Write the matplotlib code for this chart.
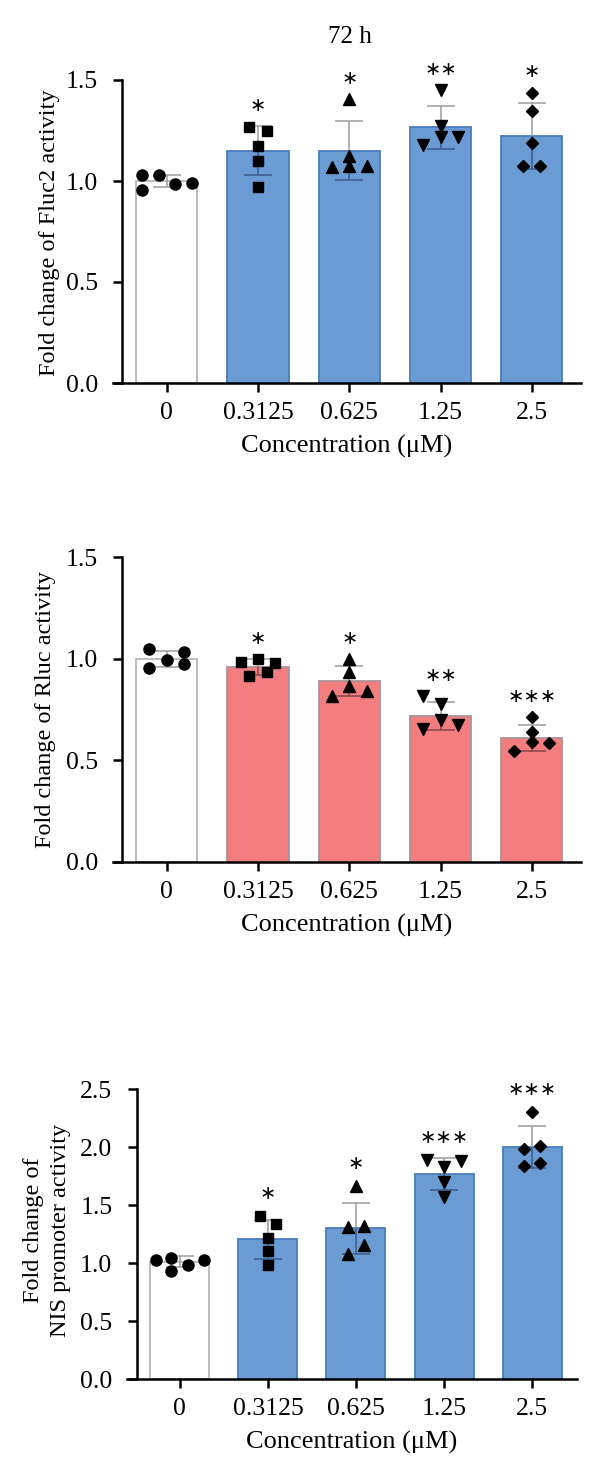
import matplotlib
matplotlib.use("Agg")
import matplotlib.pyplot as plt
import numpy as np

plt.rcParams['font.family'] = ['Liberation Serif', 'DejaVu Serif']

categories = ["0", "0.3125", "0.625", "1.25", "2.5"]
title = "72 h"
xlabel = "Concentration (μM)"

# ---- Panel 1: Fluc2 ----
fluc_label = "Fold change of Fluc2 activity"
fluc_mean = [1.00, 1.15, 1.15, 1.265, 1.224]
fluc_sd = [0.030, 0.120, 0.145, 0.107, 0.163]
fluc_points = [
    [1.03, 1.03, 0.955, 0.984, 0.99],
    [1.269, 1.249, 1.173, 1.099, 0.972],
    [1.404, 1.124, 1.071, 1.074, 1.074],
    [1.45, 1.272, 1.178, 1.22, 1.22],
    [1.437, 1.348, 1.186, 1.074, 1.074],
]
fluc_slots = [
    [-1.45, -0.45, -1.45, 0.5, 1.45],
    [-0.5, 0.5, 0, 0, 0],
    [0, 0, -1, 0, 1],
    [0, 0, -1, 0, 1],
    [0, 0, 0, -0.5, 0.5],
]
fluc_stars = ["", "*", "*", "**", "*"]

# ---- Panel 2: Rluc ----
rluc_label = "Fold change of Rluc activity"
rluc_mean = [0.998, 0.959, 0.892, 0.716, 0.611]
rluc_sd = [0.038, 0.039, 0.074, 0.069, 0.063]
rluc_points = [
    [1.048, 1.031, 0.991, 0.954, 0.975],
    [0.982, 0.998, 0.979, 0.913, 0.933],
    [0.998, 0.933, 0.864, 0.818, 0.839],
    [0.814, 0.778, 0.700, 0.654, 0.673],
    [0.713, 0.639, 0.590, 0.585, 0.545],
]
rluc_slots = [
    [-1, 1, 0, -1, 1],
    [-1, 0, 1, -0.5, 0.5],
    [0, 0, 0, -1, 1],
    [-1, 0, 0, -1, 1],
    [0, 0, 0, 1, -1],
]
rluc_stars = ["", "*", "*", "**", "***"]

# ---- Panel 3: NIS promoter ----
nis_label = "Fold change of\nNIS promoter activity"
nis_mean = [1.01, 1.203, 1.298, 1.764, 2.0]
nis_sd = [0.048, 0.168, 0.22, 0.137, 0.183]
nis_points = [
    [1.024, 1.045, 1.03, 0.981, 0.929],
    [1.404, 1.332, 1.212, 1.102, 0.987],
    [1.663, 1.309, 1.318, 1.151, 1.079],
    [1.888, 1.879, 1.831, 1.698, 1.568],
    [2.306, 1.986, 2.009, 1.836, 1.865],
]
nis_slots = [
    [-1.45, -0.5, 1.45, 0.5, -0.5],
    [-0.5, 0.5, 0, 0, 0],
    [0, -0.5, 0.5, 0.5, -0.5],
    [-1, 1, 0, 0, 0],
    [0, -0.5, 0.5, -0.5, 0.5],
]
nis_stars = ["", "*", "*", "***", "***"]

markers = ['o', 's', '^', 'v', 'D']
marker_sizes = [8.0, 7.5, 8.0, 8.0, 6.0]

W, H = 600, 1478
fig = plt.figure(figsize=(W / 100, H / 100), dpi=100)

BLUE = '#6a9bd3'
BLUE_EDGE = '#4a7cbc'
BLUE_ERR = '#2f5b97'
RED = '#f47e7f'
RED_EDGE = '#a99494'
RED_ERR = '#9a3f42'
WHITE_EDGE = '#b8b8b8'
GRAY_ERR = '#9c9c9c'


def px_axes(x0, x1, y0, y1):
    return [x0 / W, 1 - y0 / H, (x1 - x0) / W, (y0 - y1) / H]


def panel(rect, xlim, spine_x, ylim, yticks, mean, sd, points, slots, stars,
          fill, edge, err_in, ylabel, ylabel_xy, star_off, lspace=1.2):
    ax = fig.add_axes(rect)
    x = np.arange(len(categories))
    colors = ['white'] + [fill] * (len(categories) - 1)
    edges = [WHITE_EDGE] + [edge] * (len(categories) - 1)
    bars = ax.bar(x, mean, width=0.67, color=colors, edgecolor=edges,
                  linewidth=1.3, zorder=2)
    for i in range(len(categories)):
        ax.errorbar(x[i], mean[i], yerr=sd[i], fmt='none', ecolor=GRAY_ERR,
                    elinewidth=1.1, capsize=10, capthick=1.1, zorder=3,
                    clip_on=False)
        if i > 0:
            eb2 = ax.errorbar(x[i], mean[i], yerr=sd[i], fmt='none', ecolor=err_in,
                              elinewidth=1.1, capsize=10, capthick=1.1, zorder=3.5)
            for art in list(eb2.lines[1]) + list(eb2.lines[2]):
                art.set_clip_path(bars[i])
    for i in range(len(categories)):
        xs = x[i] + np.array(slots[i]) * 0.19
        ax.plot(xs, points[i], linestyle='none', marker=markers[i],
                markersize=marker_sizes[i], color='black', zorder=4, clip_on=False)
        if stars[i]:
            ax.annotate(stars[i].replace('*', '∗'), xy=(x[i], max(points[i])),
                        xytext=(0, star_off), textcoords='offset points',
                        ha='center', va='center', fontsize=14,
                        family=['DejaVu Sans'], zorder=5, annotation_clip=False)
    ax.set_xlim(*xlim)
    ax.set_ylim(*ylim)
    ax.set_yticks(yticks)
    ax.set_yticklabels([f"{v:.1f}" for v in yticks])
    ax.set_xticks(x)
    ax.set_xticklabels(categories)
    for s in ['top', 'right']:
        ax.spines[s].set_visible(False)
    ax.spines['left'].set_position(('data', spine_x))
    ax.spines['left'].set_linewidth(1.8)
    ax.spines['bottom'].set_linewidth(1.8)
    ax.tick_params(axis='both', direction='out', length=6.5, width=1.8,
                   labelsize=18.5, colors='black')
    ax.tick_params(axis='x', pad=7)
    ax.tick_params(axis='y', pad=11)
    ax.set_xlabel(xlabel, fontsize=19, labelpad=8)
    ax.patch.set_alpha(0)
    fig.text(ylabel_xy[0] / W, 1 - ylabel_xy[1] / H, ylabel, rotation=90,
             ha='center', va='center', fontsize=17.5, linespacing=lspace)
    return ax


ax1 = panel(px_axes(113, 581, 383, 80), (-0.59, 4.54), -0.49, (0, 1.5),
            [0.0, 0.5, 1.0, 1.5], fluc_mean, fluc_sd, fluc_points, fluc_slots,
            fluc_stars, BLUE, BLUE_EDGE, BLUE_ERR, fluc_label, (50, 233), 15)
fig.text(350 / W, 1 - 37 / H, title, ha='center', va='center', fontsize=18)

ax2 = panel(px_axes(113, 581, 862, 557), (-0.59, 4.54), -0.49, (0, 1.5),
            [0.0, 0.5, 1.0, 1.5], rluc_mean, rluc_sd, rluc_points, rluc_slots,
            rluc_stars, RED, RED_EDGE, RED_ERR, rluc_label, (46, 710), 15)

ax3 = panel(px_axes(127, 577, 1379, 1089), (-0.60, 4.51), -0.49, (0, 2.5),
            [0.0, 0.5, 1.0, 1.5, 2.0, 2.5], nis_mean, nis_sd, nis_points, nis_slots,
            nis_stars, BLUE, BLUE_EDGE, BLUE_ERR, nis_label, (47, 1230), 16,
            lspace=1.35)

fig.savefig("out.png", dpi=100, facecolor='white')
